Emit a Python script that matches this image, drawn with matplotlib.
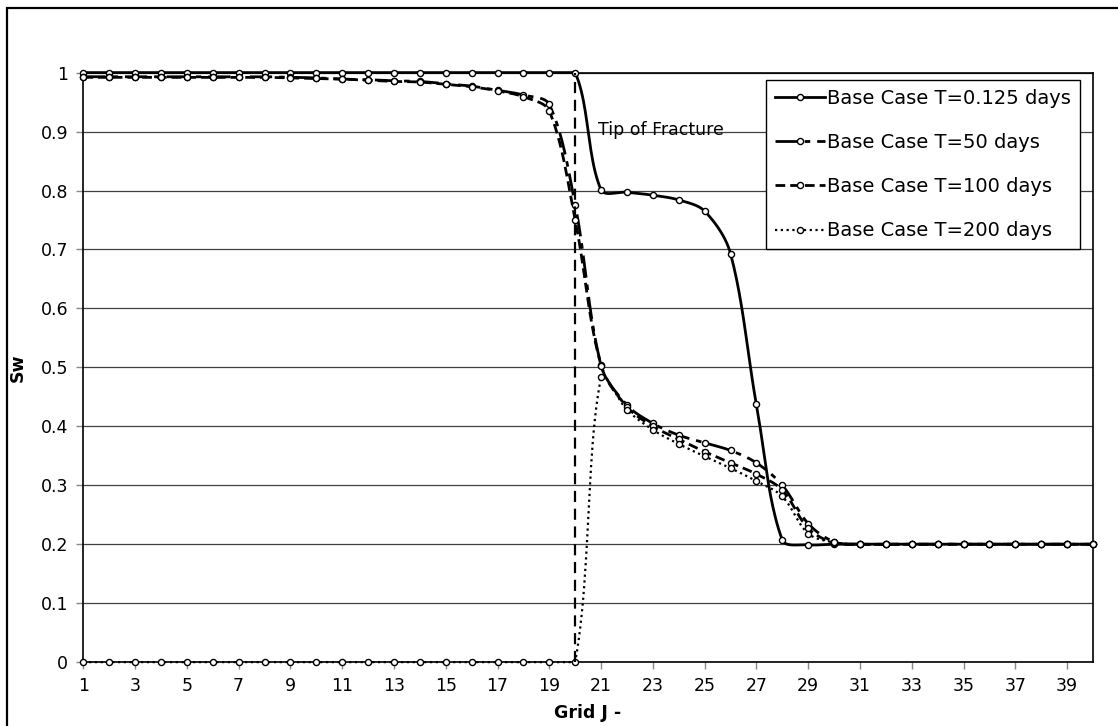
import numpy as np
import matplotlib
matplotlib.use("Agg")
import matplotlib.pyplot as plt
from matplotlib.lines import Line2D
from matplotlib.patches import Rectangle
from matplotlib.ticker import FuncFormatter

# grid blocks along J
grid_j = list(range(1, 41))

# water saturation
sw_t0125 = [1.0] * 20 + [0.801, 0.797, 0.792, 0.784, 0.765, 0.693, 0.437, 0.207, 0.199, 0.2] + [0.2] * 10
sw_t50 = [0.993, 0.993, 0.993, 0.993, 0.993, 0.993, 0.993, 0.993, 0.992, 0.991,
          0.989, 0.988, 0.986, 0.985, 0.981, 0.977, 0.970, 0.962, 0.946, 0.776,
          0.504, 0.436, 0.405, 0.385, 0.372, 0.359, 0.338, 0.300, 0.235, 0.204] + [0.2] * 10
sw_t100 = [0.992, 0.992, 0.992, 0.992, 0.992, 0.992, 0.992, 0.992, 0.991, 0.990,
           0.989, 0.987, 0.985, 0.984, 0.980, 0.976, 0.969, 0.959, 0.935, 0.750,
           0.503, 0.433, 0.400, 0.378, 0.357, 0.338, 0.319, 0.292, 0.227, 0.202] + [0.2] * 10
sw_t200 = [0.0] * 20 + [0.483, 0.428, 0.394, 0.370, 0.349, 0.329, 0.307, 0.281, 0.218, 0.203] + [0.2] * 10

labels = ["Base Case T=0.125 days", "Base Case T=50 days",
          "Base Case T=100 days", "Base Case T=200 days"]
styles = ["-", (0, (8, 2.5, 2, 2.5)), (0, (3.5, 1.8)), (0, (1, 1.6))]
widths = [2.0, 2.0, 2.0, 1.6]

FRACTURE_TIP = 20
# rough pixel size of one unit on each axis, used to weight the smoothing
PX_X = 25.85
PX_Y = 589.0


def smooth(x, y, n=24):
    # smoothed line through the points; control arms scale with segment length
    pts = np.column_stack([np.asarray(x, float) * PX_X, np.asarray(y, float) * PX_Y])
    ext = np.vstack([pts[0], pts, pts[-1]])
    t = np.linspace(0, 1, n)[:, None]
    out = []
    for i in range(len(pts) - 1):
        p0, p1, p2, p3 = ext[i], ext[i + 1], ext[i + 2], ext[i + 3]
        d01 = np.hypot(*(p1 - p0))
        d12 = np.hypot(*(p2 - p1))
        d23 = np.hypot(*(p3 - p2))
        k1 = d12 / (d01 + d12) if d01 + d12 > 0 else 0
        k2 = d12 / (d12 + d23) if d12 + d23 > 0 else 0
        c1 = p1 + (p2 - p0) * k1 / 3
        c2 = p2 - (p3 - p1) * k2 / 3
        seg = ((1 - t) ** 3) * p1 + 3 * ((1 - t) ** 2) * t * c1 + 3 * (1 - t) * t ** 2 * c2 + t ** 3 * p2
        out.append(seg if i == 0 else seg[1:])
    out = np.vstack(out)
    # saturation can't leave [0, 1]
    return out[:, 0] / PX_X, np.clip(out[:, 1] / PX_Y, 0, 1)


plt.rcParams['font.family'] = ['DejaVu Sans']
fig = plt.figure(figsize=(11.18, 7.26), dpi=100)
ax = fig.add_axes([0.0745, 0.088, 0.9031, 0.812])

series = [sw_t0125, sw_t50, sw_t100, sw_t200]
handles = []
for vals, ls, lw, lab in zip(series, styles, widths, labels):
    sx, sy = smooth(grid_j, vals)
    ax.plot(sx, sy, color='black', ls=ls, lw=lw, zorder=3, clip_on=False)
    ax.plot(grid_j, vals, ls='none', marker='o', ms=4.4, mfc='white',
            mec='black', mew=1.0, zorder=4, clip_on=False)
    handles.append(Line2D([], [], color='black', ls=ls, lw=lw, marker='o',
                          ms=4.4, mfc='white', mec='black', mew=1.0))

# fracture tip marker
ax.plot([FRACTURE_TIP, FRACTURE_TIP], [0, 1], color='black', lw=1.6,
        ls=(0, (5, 3)), zorder=5)
ax.text(20.9, 0.903, "Tip of Fracture", fontsize=12.5, va='center', ha='left')

ax.set_xlim(1, 40)
ax.set_ylim(0, 1)
ax.set_xticks(range(1, 41, 2))
ax.set_yticks(np.arange(0, 1.01, 0.1))
ax.yaxis.set_major_formatter(FuncFormatter(lambda v, p: "%g" % round(v, 1)))
ax.tick_params(axis='both', labelsize=12.5, length=5, color='#888888', width=1)
ax.tick_params(axis='x', pad=6)
ax.tick_params(axis='y', pad=6)
ax.grid(axis='y', color='#404040', lw=0.9)
ax.set_axisbelow(True)
for sp in ax.spines.values():
    sp.set_linewidth(1.2)
    sp.set_color('black')

ax.set_xlabel("Grid J -", fontsize=12.5, fontweight='bold', labelpad=6)
ax.set_ylabel("Sw", fontsize=12.5, fontweight='bold', labelpad=10)

leg = ax.legend(handles, labels, loc='upper left', bbox_to_anchor=(0.685, 0.89),
                bbox_transform=fig.transFigure, fontsize=14, frameon=True,
                fancybox=False, edgecolor='black', framealpha=1,
                handlelength=2.6, handletextpad=0.1, labelspacing=1.3,
                borderpad=0.45, borderaxespad=0, numpoints=1)
leg.get_frame().set_linewidth(1.0)

# chart border
fig.add_artist(Rectangle((7 / 1118, -0.05), 1.2, 0.05 + 1 - 8 / 726,
                         transform=fig.transFigure, fill=False, lw=1.6,
                         edgecolor='black'))

fig.savefig("out.png", dpi=100)
